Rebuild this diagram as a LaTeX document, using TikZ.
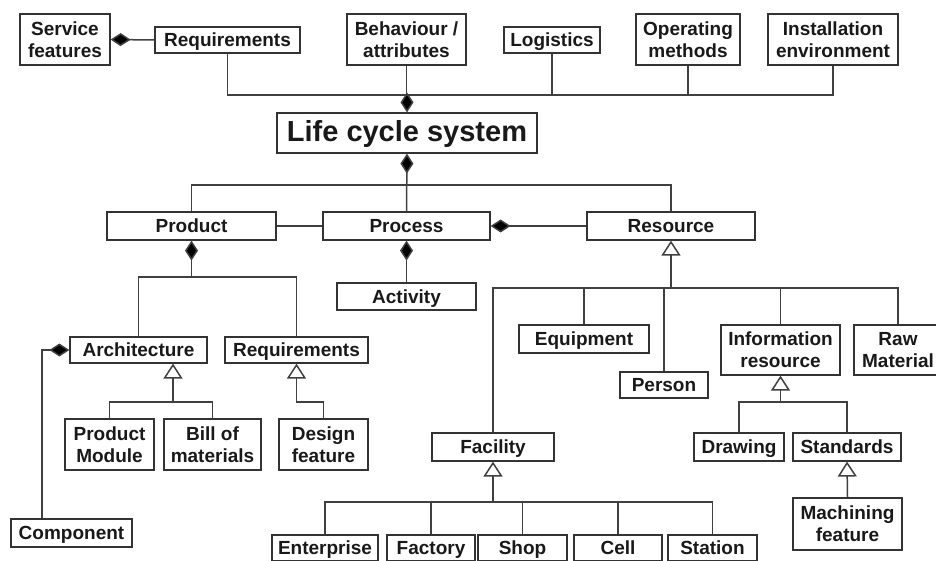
\documentclass[tikz,border=0pt]{standalone}
\usepackage{fontspec}
\setmainfont{Liberation Sans}
\usetikzlibrary{arrows.meta}
\begin{document}
\begin{tikzpicture}[x=1pt,y=-1pt,
  box/.style={draw=black!80, line width=1.2pt, rectangle, inner sep=0pt,
    align=center, text=black!90, font=\fontsize{19}{22}\selectfont\bfseries},
  one/.style={box, text height=15.5pt, text depth=2.5pt},
  conn/.style={draw=black!75, line width=1.5pt},
  whole/.style={conn, -{Diamond[length=20pt,width=13pt,fill=black]}},
  wholeat/.style={conn, {Diamond[length=20pt,width=13pt,fill=black]}-},
  kindof/.style={conn, {Triangle[open,length=15pt,width=19pt,fill=white]}-}]
\useasboundingbox (0,0) rectangle (936,561);

% bus lines
\coordinate (topbus) at (0,95);
\coordinate (midbus) at (0,185);
\coordinate (pbus) at (0,277);
\coordinate (rbus) at (0,288);
\coordinate (abus) at (0,402);
\coordinate (ibus) at (0,402);
\coordinate (fbus) at (0,502);

% life cycle aspects
\node[box, minimum width=90, minimum height=51] (svc) at (65,39.5) {Service\\features};
\node[one, minimum width=145, minimum height=26] (req) at (227.5,40) {Requirements};
\node[box, minimum width=119, minimum height=51] (beh) at (406.5,39.5) {Behaviour /\\attributes};
\node[one, minimum width=96, minimum height=26] (log) at (552,40) {Logistics};
\node[box, minimum width=104, minimum height=51] (opm) at (688,39.5) {Operating\\methods};
\node[box, minimum width=130, minimum height=51] (inst) at (833,39.5) {Installation\\environment};

\node[box, minimum width=260, minimum height=40, text height=22pt, text depth=5pt,
      font=\fontsize{29}{32}\selectfont\bfseries] (lcs) at (407,133) {Life cycle system};

% product / process / resource
\node[one, minimum width=169, minimum height=28] (prod) at (191.5,226) {Product};
\node[one, minimum width=167, minimum height=28] (proc) at (406.5,226) {Process};
\node[one, minimum width=168, minimum height=28] (res) at (671,226) {Resource};
\node[one, minimum width=139, minimum height=27] (act) at (406.5,296.5) {Activity};

% product side
\node[one, minimum width=137, minimum height=26] (arch) at (138.5,350) {Architecture};
\node[one, minimum width=143, minimum height=26] (req2) at (296.5,350) {Requirements};
\node[box, minimum width=89, minimum height=51] (pm) at (109.5,444.5) {Product\\Module};
\node[box, minimum width=97, minimum height=51] (bom) at (212.5,444.5) {Bill of\\materials};
\node[box, minimum width=89, minimum height=51] (df) at (323.5,444.5) {Design\\feature};
\node[one, minimum width=121, minimum height=28] (comp) at (71.5,533) {Component};

% resource side
\node[one, minimum width=130, minimum height=28] (equip) at (584,339) {Equipment};
\node[one, minimum width=88, minimum height=26] (person) at (664,385) {Person};
\node[box, minimum width=119, minimum height=50] (info) at (780.5,350) {Information\\resource};
\node[box, minimum width=88, minimum height=50] (raw) at (898,350) {Raw\\Material};
\node[one, minimum width=122, minimum height=28] (fac) at (493,447) {Facility};
\node[one, minimum width=90, minimum height=28] (drw) at (739,447) {Drawing};
\node[one, minimum width=108, minimum height=28] (std) at (847,447) {Standards};
\node[box, minimum width=109, minimum height=52] (mach) at (847.5,524) {Machining\\feature};

\node[one, minimum width=106, minimum height=26] (ent) at (325,548) {Enterprise};
\node[one, minimum width=88, minimum height=26] (fact) at (431,548) {Factory};
\node[one, minimum width=89, minimum height=26] (shop) at (522.5,548) {Shop};
\node[one, minimum width=88, minimum height=26] (cell) at (618,548) {Cell};
\node[one, minimum width=89, minimum height=26] (stat) at (712.5,548) {Station};

% aspects of the life cycle system
\draw[whole] (req.west) -- (svc.east);
\draw[conn] (req.south) |- (inst.south |- topbus) -- (inst.south);
\draw[conn] (beh.south) -- (beh.south |- topbus);
\draw[conn] (log.south) -- (log.south |- topbus);
\draw[conn] (opm.south) -- (opm.south |- topbus);
\draw[whole] (lcs.north |- topbus) -- (lcs.north);

% decomposition of the life cycle system
\draw[wholeat] (lcs.south) -- (proc.north);
\draw[conn] (prod.north) |- (res.north |- midbus) -- (res.north);
\draw[conn] (prod.east) -- (proc.west);
\draw[whole] (res.west) -- (proc.east);
\draw[wholeat] (proc.south) -- (act.north);

% product structure
\draw[wholeat] (prod.south) -- (prod.south |- pbus);
\draw[conn] (arch.north) |- (req2.north |- pbus) -- (req2.north);
\draw[whole] ([xshift=-29.5pt]comp.north) |- (arch.west);
\draw[kindof] ([xshift=34.5pt]arch.south) -- ([xshift=34.5pt]arch.south |- abus);
\draw[conn] (pm.north) |- (bom.north |- abus) -- (bom.north);
\draw[kindof] (req2.south) -- (req2.south |- abus) -| (df.north);

% resource kinds
\draw[kindof] (res.south) -- (res.south |- rbus);
\draw[conn] (fac.north) |- (raw.north |- rbus) -- (raw.north);
\draw[conn] (equip.north) -- (equip.north |- rbus);
\draw[conn] (person.north) -- (person.north |- rbus);
\draw[conn] (info.north) -- (info.north |- rbus);

\draw[kindof] (info.south) -- (info.south |- ibus);
\draw[conn] (drw.north) |- (std.north |- ibus) -- (std.north);
\draw[kindof] (std.south) -- (mach.north);

\draw[kindof] (fac.south) -- (fac.south |- fbus);
\draw[conn] (ent.north) |- (stat.north |- fbus) -- (stat.north);
\draw[conn] (fact.north) -- (fact.north |- fbus);
\draw[conn] (shop.north) -- (shop.north |- fbus);
\draw[conn] (cell.north) -- (cell.north |- fbus);
\end{tikzpicture}
\end{document}
